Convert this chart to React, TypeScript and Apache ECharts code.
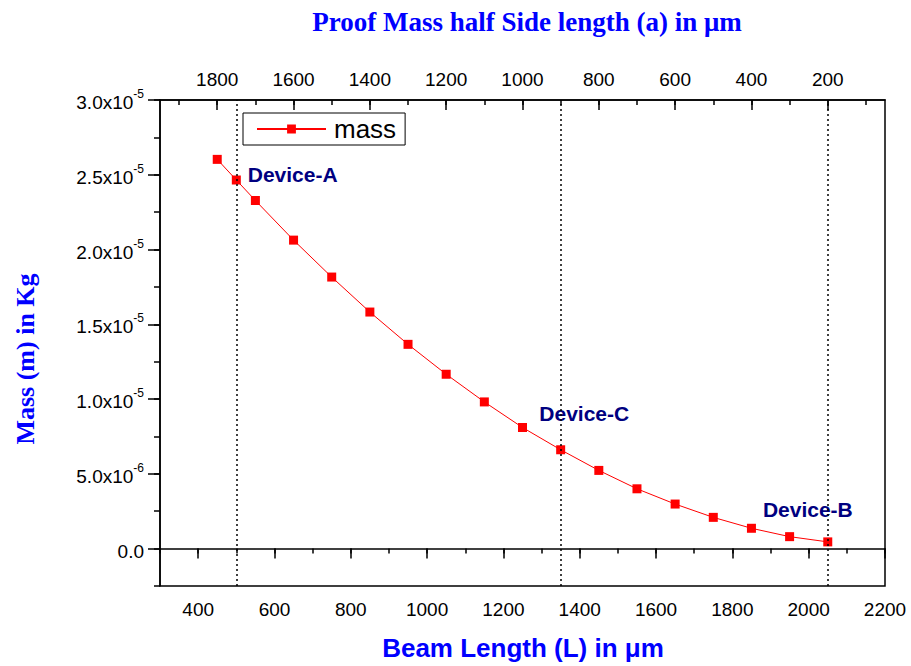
import React, { useEffect, useRef } from "react";
import * as echarts from "echarts";

// ---- data ----
const beamLength = [450, 500, 550, 650, 750, 850, 950, 1050, 1150, 1250, 1350, 1450, 1550, 1650, 1750, 1850, 1950, 2050];
const massValues = [2.603e-5, 2.465e-5, 2.328e-5, 2.063e-5, 1.816e-5, 1.582e-5, 1.366e-5, 1.166e-5, 9.81e-6, 8.1e-6, 6.61e-6, 5.23e-6, 4.0e-6, 2.98e-6, 2.09e-6, 1.36e-6, 0.8e-6, 0.45e-6];
const deviceLines = [500, 1350, 2050];
const deviceNames = ["Device-A", "Device-C", "Device-B"];
const deviceLabelX = [530, 1294, 1880];
const deviceLabelY = [2.5e-5, 9.03e-6, 2.6e-6];
const bottomMajorTicks = [400, 600, 800, 1000, 1200, 1400, 1600, 1800, 2000, 2200];
const bottomMinorTicks = [300, 400, 500, 600, 700, 800, 900, 1000, 1100, 1200, 1300, 1400, 1500, 1600, 1700, 1800, 1900, 2000, 2100, 2200];
const topMajorTicks = [200, 400, 600, 800, 1000, 1200, 1400, 1600, 1800];
const topMinorTicks = [100, 200, 300, 400, 500, 600, 700, 800, 900, 1000, 1100, 1200, 1300, 1400, 1500, 1600, 1700, 1800, 1900];
const yMajorTicks = [0, 5e-6, 1e-5, 1.5e-5, 2e-5, 2.5e-5, 3e-5];

const SANS = "Liberation Sans, Arial, sans-serif";
const SERIF = "Liberation Serif, Times New Roman, serif";
const BLUE = "#0000ff";

function yFormatter(v: number): string {
  if (Math.abs(v) < 1e-12) return "{b|0.0}";
  const exp = Math.floor(Math.log10(v) + 1e-9);
  const mant = v / Math.pow(10, exp);
  return `{b|${mant.toFixed(1)}x10}{s|${exp}}`;
}
const plain = (v: number) => String(Math.round(v));

export default function App() {
  const ref = useRef<HTMLDivElement>(null);
  useEffect(() => {
    if (!ref.current) return;
    const chart = echarts.init(ref.current, null, { renderer: "svg" });
    const axisLineStyle = { color: "#000", width: 1.5 };
    const gridPos = { left: 160, right: 26, top: 100, bottom: 80 };
    chart.setOption({
      animation: false,
      backgroundColor: "#fff",
      grid: { ...gridPos, show: true, borderColor: "#000", borderWidth: 1.5, backgroundColor: "transparent" },
      legend: {
        data: ["mass"],
        left: 243,
        top: 113,
        orient: "horizontal",
        itemWidth: 69,
        itemHeight: 11,
        padding: [3, 9, 3, 13],
        borderColor: "#000",
        borderWidth: 1,
        textStyle: { fontFamily: SANS, fontSize: 26, color: "#000", padding: [0, 0, 0, 3] },
      },
      xAxis: [
        {
          type: "value", position: "bottom", min: 300, max: 2200,
          axisLine: { show: true, lineStyle: axisLineStyle },
          axisTick: { show: true, length: 10, customValues: bottomMajorTicks, lineStyle: axisLineStyle },
          axisLabel: { customValues: bottomMajorTicks, formatter: plain, fontFamily: SANS, fontSize: 19, color: "#000", margin: 14 },
          splitLine: { show: false },
        },
        {
          type: "value", position: "bottom", min: 300, max: 2200,
          axisLine: { show: false },
          axisTick: { show: true, length: 5, customValues: bottomMinorTicks, lineStyle: axisLineStyle },
          axisLabel: { show: false },
          splitLine: { show: false },
        },
        {
          type: "value", position: "top", min: 50, max: 1950, inverse: true,
          axisLine: { show: true, lineStyle: axisLineStyle },
          axisTick: { show: true, inside: true, length: 10, customValues: topMajorTicks, lineStyle: axisLineStyle },
          axisLabel: { customValues: topMajorTicks, formatter: plain, fontFamily: SANS, fontSize: 19, color: "#000", margin: 11 },
          splitLine: { show: false },
        },
        {
          type: "value", position: "top", min: 50, max: 1950, inverse: true,
          axisLine: { show: false },
          axisTick: { show: true, inside: true, length: 5, customValues: topMinorTicks, lineStyle: axisLineStyle },
          axisLabel: { show: false },
          splitLine: { show: false },
        },
      ],
      yAxis: [
        {
          type: "value", position: "left", min: -2.5e-6, max: 3e-5, interval: 2.5e-6,
          axisLine: { show: true, lineStyle: axisLineStyle },
          axisTick: { show: true, length: 12, customValues: yMajorTicks, lineStyle: axisLineStyle },
          axisLabel: {
            customValues: yMajorTicks,
            formatter: yFormatter,
            margin: 16,
            rich: {
              b: { fontFamily: SANS, fontSize: 19, color: "#000", lineHeight: 24, verticalAlign: "bottom" },
              s: { fontFamily: SANS, fontSize: 12, color: "#000", lineHeight: 24, verticalAlign: "top" },
            },
          },
          splitLine: { show: false },
        },
        {
          type: "value", position: "left", min: -2.5e-6, max: 3e-5, interval: 2.5e-6,
          axisLine: { show: false },
          axisTick: { show: true, length: 6, lineStyle: axisLineStyle },
          axisLabel: { show: false },
          splitLine: { show: false },
        },
      ],
      series: [
        {
          name: "mass",
          type: "line",
          xAxisIndex: 0,
          yAxisIndex: 0,
          data: beamLength.map((x, i) => [x, massValues[i]]),
          symbol: "rect",
          symbolSize: 9,
          itemStyle: { color: "#ff0000" },
          lineStyle: { color: "#ff0000", width: 1 },
          markLine: {
            silent: true,
            symbol: "none",
            label: { show: false },
            lineStyle: { color: "#000", type: [2, 3], width: 1.5 },
            data: deviceLines.map((x) => ({ xAxis: x })),
          },
          z: 3,
        },
        {
          name: "devices",
          type: "scatter",
          xAxisIndex: 0,
          yAxisIndex: 0,
          symbolSize: 0,
          silent: true,
          itemStyle: { opacity: 1 },
          data: deviceNames.map((n, i) => ({ name: n, value: [deviceLabelX[i], deviceLabelY[i]] })),
          label: {
            show: true,
            position: "right",
            distance: 0,
            formatter: (p: any) => p.name,
            fontFamily: SANS,
            fontSize: 21,
            fontWeight: "bold",
            color: "#000080",
            opacity: 1,
            textBorderWidth: 0,
          },
          z: 4,
        },
      ],
      graphic: [
        {
          type: "text", x: 527, y: 22,
          style: { text: "Proof Mass half Side length (a) in \u03bcm", font: `bold 27px ${SERIF}`, fill: BLUE, align: "center", verticalAlign: "middle" },
        },
        {
          type: "text", x: 523, y: 648,
          style: { text: "Beam Length (L) in \u03bcm", font: `bold 26px ${SANS}`, fill: BLUE, align: "center", verticalAlign: "middle" },
        },
        {
          type: "text", x: 25, y: 359, rotation: Math.PI / 2,
          style: { text: "Mass (m) in Kg", font: `bold 26px ${SERIF}`, fill: BLUE, align: "center", verticalAlign: "middle" },
        },
      ],
    });
    return () => chart.dispose();
  }, []);
  return <div ref={ref} style={{ position: "fixed", left: 0, top: 0, width: 911, height: 666 }} />;
}
